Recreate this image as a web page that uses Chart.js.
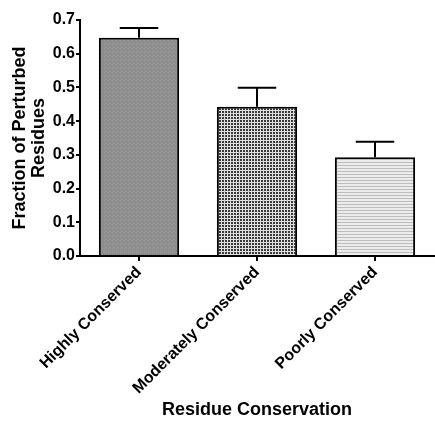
<!DOCTYPE html>
<html lang="en">
<head>
  <meta charset="UTF-8" />
  <title>Residue Conservation</title>
  <script src="https://cdn.jsdelivr.net/npm/chart.js"></script>
  <style>
    body { margin: 0; padding: 0; background: #fff; }
    .wrap { width: 435px; height: 428px; }
  </style>
</head>
<body>
  <div class="wrap"><canvas id="chart" width="435" height="428"></canvas></div>

  <script>
    const categories = ['Highly Conserved', 'Moderately Conserved', 'Poorly Conserved'];
    const fractions = [0.647, 0.443, 0.293];
    const errors = [0.029, 0.056, 0.046];
    const yTicks = [0.0, 0.1, 0.2, 0.3, 0.4, 0.5, 0.6, 0.7];

    // fill patterns like the original graph
    function makePattern(kind) {
      const c = document.createElement('canvas');
      const g = c.getContext('2d');
      if (kind === 'fine') {
        c.width = 4; c.height = 4;
        g.fillStyle = '#8f8f8f'; g.fillRect(0, 0, 4, 4);
        g.fillStyle = '#999999'; g.fillRect(0, 0, 1, 1); g.fillRect(2, 1, 1, 1); g.fillRect(1, 3, 1, 1);
        g.fillStyle = '#858585'; g.fillRect(3, 2, 1, 1); g.fillRect(1, 1, 1, 1);
      } else if (kind === 'checker') {
        c.width = 3; c.height = 3;
        g.fillStyle = '#e0e0e0'; g.fillRect(0, 0, 3, 3);
        g.fillStyle = '#3a3a3a'; g.fillRect(0, 0, 2, 2);
      } else {
        c.width = 3; c.height = 3;
        g.fillStyle = '#ececec'; g.fillRect(0, 0, 3, 3);
        g.fillStyle = '#bdbdbd'; g.fillRect(0, 0, 3, 1);
      }
      return g.createPattern(c, 'repeat');
    }

    const errorBars = {
      id: 'errorBars',
      afterDatasetsDraw(chart) {
        const ctx = chart.ctx;
        const y = chart.scales.y;
        const meta = chart.getDatasetMeta(0);
        ctx.save();
        ctx.strokeStyle = '#000';
        ctx.lineWidth = 2;
        meta.data.forEach((bar, i) => {
          const top = y.getPixelForValue(fractions[i] + errors[i]);
          const half = bar.width * 0.24;
          ctx.beginPath();
          ctx.moveTo(bar.x, bar.y);
          ctx.lineTo(bar.x, top);
          ctx.moveTo(bar.x - half, top);
          ctx.lineTo(bar.x + half, top);
          ctx.stroke();
        });
        ctx.restore();
      }
    };

    const font = { family: 'Liberation Sans, Arial, sans-serif', weight: 'bold' };

    new Chart(document.getElementById('chart'), {
      type: 'bar',
      data: {
        labels: categories,
        datasets: [{
          data: fractions,
          backgroundColor: [makePattern('fine'), makePattern('checker'), makePattern('lines')],
          borderColor: '#000',
          borderWidth: 2,
          borderSkipped: 'bottom',
          barPercentage: 0.68,
          categoryPercentage: 1.0
        }]
      },
      options: {
        responsive: false,
        animation: false,
        layout: { padding: { top: 20, right: 1, left: 11, bottom: 7 } },
        plugins: { legend: { display: false }, tooltip: { enabled: false } },
        scales: {
          x: {
            afterFit(scale) { scale.height = 165; },
            grid: { display: true, drawOnChartArea: false, color: '#000', lineWidth: 2, tickLength: 5, offset: false },
            border: { color: '#000', width: 2 },
            ticks: {
              color: '#000',
              font: { ...font, size: 16 },
              maxRotation: 45,
              minRotation: 45,
              autoSkip: false,
              padding: 2
            },
            title: {
              display: true,
              text: 'Residue Conservation',
              color: '#000',
              font: { ...font, size: 18 },
              padding: 0
            }
          },
          y: {
            min: 0,
            max: 0.7,
            afterBuildTicks(scale) { scale.ticks = yTicks.map(v => ({ value: v })); },
            afterFit(scale) { scale.width = 69; },
            grid: { display: true, drawOnChartArea: false, color: '#000', lineWidth: 2, tickLength: 4 },
            border: { color: '#000', width: 2 },
            ticks: {
              color: '#000',
              font: { ...font, size: 16 },
              padding: 1,
              callback: v => Number(v).toFixed(1)
            },
            title: {
              display: true,
              text: ['Fraction of Perturbed', 'Residues'],
              color: '#000',
              font: { ...font, size: 18, lineHeight: 1.02 },
              padding: 0
            }
          }
        }
      },
      plugins: [errorBars]
    });
  </script>
</body>
</html>
